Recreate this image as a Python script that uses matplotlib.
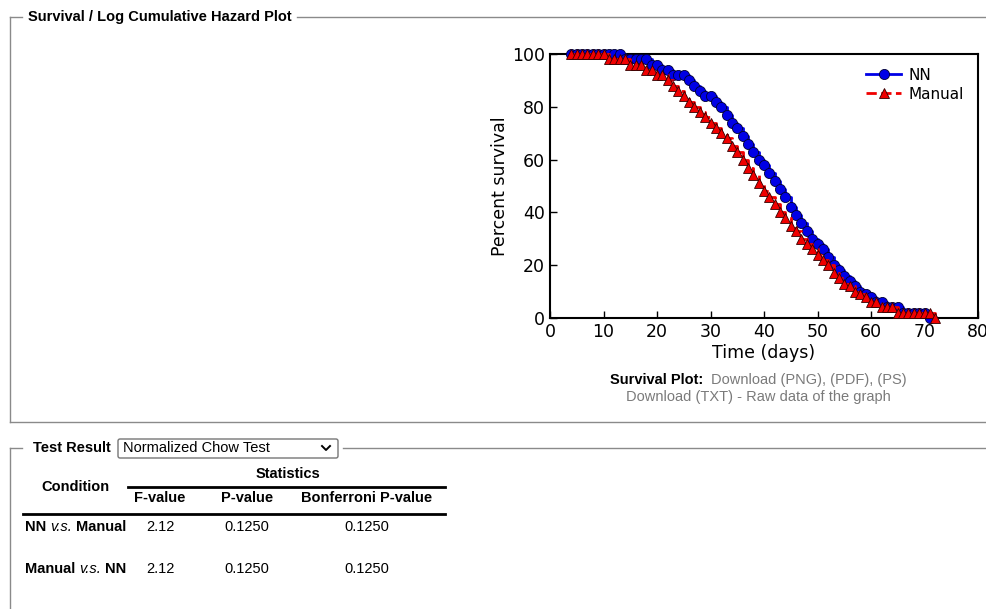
import numpy as np
import matplotlib
matplotlib.use('Agg')
import matplotlib.pyplot as plt
from matplotlib.patches import FancyBboxPatch

# === Data ===
nn_days = list(range(4, 72))
nn_surv = [100, 100, 100, 100, 100, 100, 100, 100, 100, 100,   # 4-13
           98, 98, 98, 98, 98, 96, 96, 94, 94, 92,              # 14-23
           92, 92, 90, 88, 86, 84, 84, 82, 80, 77,              # 24-33
           74, 72, 69, 66, 63, 60, 58, 55, 52, 49,              # 34-43
           46, 42, 39, 36, 33, 30, 28, 26, 23, 20,              # 44-53
           18, 16, 14, 12, 10, 9, 8, 6, 6, 4,                   # 54-63
           4, 4, 2, 2, 2, 2, 2, 0]                              # 64-71

man_days = list(range(4, 73))
man_surv = [100, 100, 100, 100, 100, 100, 100, 98, 98, 98,     # 4-13
            98, 96, 96, 96, 94, 94, 92, 92, 90, 88,             # 14-23
            86, 84, 82, 80, 78, 76, 74, 72, 70, 68,             # 24-33
            65, 63, 60, 57, 54, 51, 48, 46, 43, 40,             # 34-43
            38, 35, 33, 30, 28, 26, 24, 22, 20, 17,             # 44-53
            15, 13, 12, 10, 9, 8, 6, 6, 4, 4,                   # 54-63
            4, 2, 2, 2, 2, 2, 2, 2, 0]                          # 64-72

# === Table data ===
col_headers = ['F-value', 'P-value', 'Bonferroni P-value']
row_pairs = [('NN', 'Manual'), ('Manual', 'NN')]
f_values = ['2.12', '2.12']
p_values = ['0.1250', '0.1250']
bonf_values = ['0.1250', '0.1250']

W, H = 986, 609
fig = plt.figure(figsize=(W / 100, H / 100), dpi=100)
fig.patch.set_facecolor('white')

# page layer in pixel coordinates
bg = fig.add_axes([0, 0, 1, 1])
bg.set_xlim(0, W)
bg.set_ylim(H, 0)
bg.axis('off')

web = 'Liberation Sans'
fs = 10.5
border = '#8a8a8a'
grey = '#7a7a7a'
renderer = fig.canvas.get_renderer()


def run_text(x, y, pieces, gap=4):
    # draw (text, kwargs) pieces one after another on a line
    for s, kw in pieces:
        t = bg.text(x, y, s, family=web, fontsize=fs, va='center', ha='left', **kw)
        bb = t.get_window_extent(renderer)
        x += bb.width + gap


# --- fieldset 1 ---
bg.plot([10, 10], [17, 422], color=border, lw=1)
bg.plot([10, W], [422, 422], color=border, lw=1)
bg.plot([10, 22], [17, 17], color=border, lw=1)
bg.plot([297, W], [17, 17], color=border, lw=1)
bg.text(28, 17, 'Survival / Log Cumulative Hazard Plot', family=web,
        fontsize=fs, fontweight='bold', va='center', ha='left')

# caption under plot
bg.text(610, 380, 'Survival Plot:', family=web, fontsize=fs,
        fontweight='bold', va='center', ha='left')
bg.text(711, 380, 'Download (PNG), (PDF), (PS)', family=web, fontsize=fs,
        color=grey, va='center', ha='left')
bg.text(758, 397, 'Download (TXT) - Raw data of the graph', family=web,
        fontsize=fs, color=grey, va='center', ha='center')

# --- fieldset 2 ---
bg.plot([10, 10], [448, H], color=border, lw=1)
bg.plot([10, 22], [448, 448], color=border, lw=1)
bg.plot([343, W], [448, 448], color=border, lw=1)
bg.text(33, 448, 'Test Result', family=web, fontsize=fs,
        fontweight='bold', va='center', ha='left')
sel = FancyBboxPatch((118, 439), 220, 19, boxstyle='round,pad=0,rounding_size=2',
                     fc='white', ec='#767676', lw=1)
bg.add_patch(sel)
bg.text(123, 448.5, 'Normalized Chow Test', family=web, fontsize=fs,
        va='center', ha='left')
bg.plot([322, 326, 330], [446, 450, 446], color='black', lw=1.4)

# table
bg.text(75, 487, 'Condition', family=web, fontsize=fs, fontweight='bold',
        va='center', ha='center')
bg.text(288, 474, 'Statistics', family=web, fontsize=fs, fontweight='bold',
        va='center', ha='center')
bg.plot([128, 445], [486.5, 486.5], color='black', lw=2)
col_x = [160, 247, 367]
for cx, hdr in zip(col_x, col_headers):
    bg.text(cx, 498, hdr, family=web, fontsize=fs, fontweight='bold',
            va='center', ha='center')
bg.plot([23, 445], [514, 514], color='black', lw=2)

row_y = [527, 569]
for (a, b), ry, fv, pv, bv in zip(row_pairs, row_y, f_values, p_values, bonf_values):
    run_text(25, ry, [(a, dict(fontweight='bold')),
                      ('v.s.', dict(style='italic')),
                      (b, dict(fontweight='bold'))])
    for cx, val in zip(col_x, (fv, pv, bv)):
        bg.text(cx, ry, val, family=web, fontsize=fs, va='center', ha='center')

# === survival plot ===
left, right, top, bottom = 550, 978, 54, 318
ax = fig.add_axes([left / W, 1 - bottom / H, (right - left) / W, (bottom - top) / H])
ax.plot(nn_days, nn_surv, color='#0000e6', lw=2, drawstyle='steps-post',
        marker='o', markersize=7.3, markeredgecolor='#000033', markeredgewidth=0.6,
        label='NN', clip_on=False, zorder=3)
ax.plot(man_days, man_surv, color='#f00000', lw=2, ls='--', drawstyle='steps-post',
        marker='^', markersize=7.3, markeredgecolor='#330000', markeredgewidth=0.6,
        label='Manual', clip_on=False, zorder=4)
ax.set_xlim(0, 80)
ax.set_ylim(0, 100)
ax.set_xticks(range(0, 81, 10))
ax.set_yticks(range(0, 101, 20))
ax.tick_params(direction='in', length=5, width=1, labelsize=12.5,
               top=False, right=False)
for sp in ax.spines.values():
    sp.set_linewidth(1.5)
ax.set_xlabel('Time (days)', fontsize=12.5, labelpad=2)
ax.set_ylabel('Percent survival', fontsize=12.5, labelpad=2)
ax.legend(loc='upper right', frameon=False, fontsize=11, handlelength=2.3,
          handletextpad=0.5, borderaxespad=0.5, labelspacing=0.25)

fig.savefig('out.png', dpi=100, facecolor='white')
